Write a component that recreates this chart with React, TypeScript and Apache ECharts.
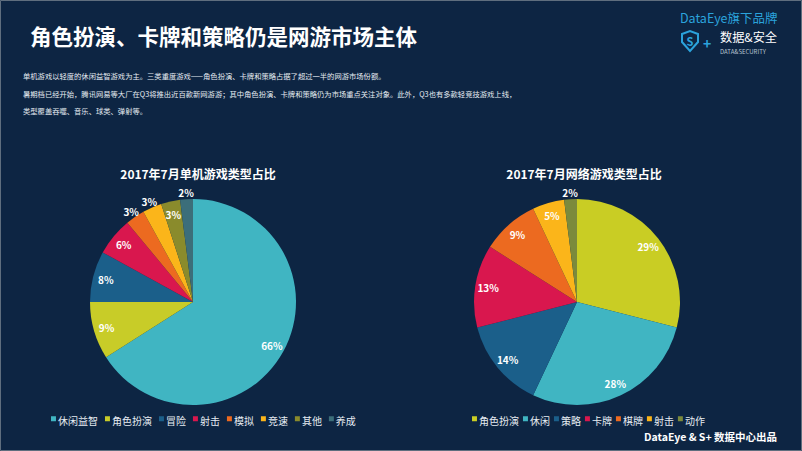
import React, { useEffect, useRef } from "react";
import * as echarts from "echarts";

const leftNames = ["休闲益智", "角色扮演", "冒险", "射击", "模拟", "竞速", "其他", "养成"];
const leftValues = [66, 9, 8, 6, 3, 3, 3, 2];
const leftColors = ["#40b5c2", "#c8cc28", "#1b5f8a", "#d9174e", "#ec6a20", "#fbb51a", "#8a8b2c", "#3c6e7a"];
const leftOuterLabel = [false, false, false, false, true, true, false, true];

const rightNames = ["角色扮演", "休闲", "策略", "卡牌", "棋牌", "射击", "动作"];
const rightValues = [29, 28, 14, 13, 9, 5, 2];
const rightColors = ["#c9cd24", "#40b5c2", "#1b5f8a", "#d9174e", "#ec6a20", "#fbb51a", "#7b8a3c"];
const rightOuterLabel = [false, false, false, false, false, false, true];

const titleText = "角色扮演、卡牌和策略仍是网游市场主体";
const paragraph = [
  "单机游戏以轻度的休闲益智游戏为主。三类重度游戏——角色扮演、卡牌和策略占据了超过一半的网游市场份额。",
  "暑期档已经开始，腾讯网易等大厂在Q3将推出近百款新网游游；其中角色扮演、卡牌和策略仍为市场重点关注对象。此外，Q3也有多款轻竞技游戏上线，",
  "类型覆盖吞噬、音乐、球类、弹射等。",
];
const leftTitle = "2017年7月单机游戏类型占比";
const rightTitle = "2017年7月网络游戏类型占比";
const footer = "DataEye & S+ 数据中心出品";

const FONT = "'Noto Sans CJK SC', 'Noto Sans', sans-serif";
const BG = "#0d2543";

function buildPie(names: string[], values: number[], colors: string[], center: number[], r: number) {
  return {
    type: "pie",
    center,
    radius: [0, r],
    startAngle: 90,
    clockwise: true,
    silent: true,
    label: { show: false },
    labelLine: { show: false },
    itemStyle: { borderWidth: 0 },
    data: names.map((n, i) => ({ name: n, value: values[i], itemStyle: { color: colors[i] } })),
  };
}

function buildLabelRing(names: string[], values: number[], showMask: boolean[], want: boolean, center: number[], r0: number, r1: number) {
  return {
    type: "pie",
    center,
    radius: [r0, r1],
    startAngle: 90,
    clockwise: true,
    silent: true,
    emphasis: { disabled: true },
    itemStyle: { color: "rgba(0,0,0,0)", borderWidth: 0 },
    labelLine: { show: false },
    label: {
      position: "inside",
      formatter: "{c}%",
      color: "#ffffff",
      fontSize: 10,
      fontWeight: "bold",
      fontFamily: FONT,
    },
    data: names.map((n, i) => ({ name: n, value: values[i], label: { show: showMask[i] === want } })),
  };
}

const legendIcon = "path://M0,0H10V10H0Z M0,15H0.1V15.1H0Z";

export default function App() {
  const ref = useRef<HTMLDivElement>(null);
  useEffect(() => {
    if (!ref.current) return;
    const chart = echarts.init(ref.current, undefined, { renderer: "svg" });
    const lc = [193, 302];
    const rc = [577, 302];
    const R = 103;
    chart.setOption({
      animation: false,
      backgroundColor: BG,
      textStyle: { fontFamily: FONT },
      legend: [
        {
          left: 46,
          top: 410,
          orient: "horizontal",
          icon: legendIcon,
          itemWidth: 5,
          itemHeight: 7.5,
          itemGap: 7,
          selectedMode: false,
          textStyle: { color: "#e6ecf2", fontSize: 10, fontFamily: FONT, padding: [0, 0, 0, -3] },
          data: leftNames.map((n, i) => ({ name: n, itemStyle: { color: leftColors[i] } })),
        },
        {
          left: 467,
          top: 410,
          orient: "horizontal",
          icon: legendIcon,
          itemWidth: 5,
          itemHeight: 7.5,
          itemGap: 4,
          selectedMode: false,
          textStyle: { color: "#e6ecf2", fontSize: 10, fontFamily: FONT, padding: [0, 0, 0, -3] },
          data: rightNames.map((n, i) => ({ name: n, itemStyle: { color: rightColors[i] } })),
        },
      ],
      series: [
        buildPie(leftNames, leftValues, leftColors, lc, R),
        buildPie(rightNames, rightValues, rightColors, rc, R),
        buildLabelRing(leftNames, leftValues, leftOuterLabel, false, lc, 76, 98),
        buildLabelRing(leftNames, leftValues, leftOuterLabel, true, lc, 101, 113),
        buildLabelRing(rightNames, rightValues, rightOuterLabel, false, rc, 76, 98),
        buildLabelRing(rightNames, rightValues, rightOuterLabel, true, rc, 101, 113),
      ],
      graphic: [
        {
          type: "rect",
          shape: { x: 0.5, y: 0.5, width: 801, height: 450 },
          style: { fill: "none", stroke: "#5f6e7e", lineWidth: 1 },
          silent: true,
        },
        {
          type: "text",
          x: 30,
          y: 35,
          style: { text: titleText, fill: "#ffffff", font: `bold 21.5px ${FONT}`, align: "left", verticalAlign: "middle" },
        },
        {
          type: "text",
          x: 680,
          y: 17.5,
          style: { text: "DataEye旗下品牌", fill: "#2ba3dc", font: `12.5px ${FONT}`, align: "left", verticalAlign: "middle" },
        },
        {
          type: "polygon",
          shape: { points: [[682, 34], [690, 31], [698, 34], [698, 42], [690, 51], [682, 42]] },
          style: { fill: "none", stroke: "#2ba3dc", lineWidth: 2 },
        },
        {
          type: "text",
          x: 690,
          y: 41,
          style: { text: "S", fill: "#2ba3dc", font: `bold 11px ${FONT}`, align: "center", verticalAlign: "middle" },
        },
        {
          type: "text",
          x: 707,
          y: 43,
          style: { text: "+", fill: "#2ba3dc", font: `bold 14px ${FONT}`, align: "center", verticalAlign: "middle" },
        },
        {
          type: "text",
          x: 720,
          y: 37,
          style: { text: "数据&安全", fill: "#ffffff", font: `12.2px ${FONT}`, align: "left", verticalAlign: "middle" },
        },
        {
          type: "text",
          x: 720,
          y: 51,
          style: { text: "DATA&SECURITY", fill: "#b8c4d0", font: `6px ${FONT}`, align: "left", verticalAlign: "middle" },
        },
        ...paragraph.map((t, i) => ({
          type: "text",
          x: 23,
          y: 76 + i * 17.5,
          style: { text: t, fill: "#e6ecf2", font: `7.3px ${FONT}`, align: "left", verticalAlign: "middle" },
        })),
        {
          type: "text",
          x: 198,
          y: 173,
          style: { text: leftTitle, fill: "#ffffff", font: `bold 12px ${FONT}`, align: "center", verticalAlign: "middle" },
        },
        {
          type: "text",
          x: 584,
          y: 173,
          style: { text: rightTitle, fill: "#ffffff", font: `bold 12px ${FONT}`, align: "center", verticalAlign: "middle" },
        },
        {
          type: "text",
          x: 777,
          y: 436,
          style: { text: footer, fill: "#ffffff", font: `bold 10.5px ${FONT}`, align: "right", verticalAlign: "middle" },
        },
      ],
    });
    return () => chart.dispose();
  }, []);
  return (
    <div
      ref={ref}
      style={{ position: "fixed", left: 0, top: 0, width: 802, height: 451 }}
    />
  );
}
